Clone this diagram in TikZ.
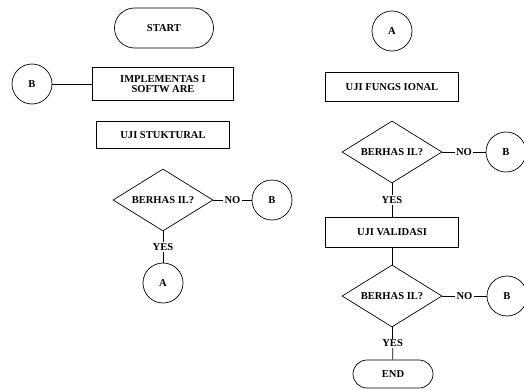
\documentclass[tikz,border=0pt]{standalone}
\usepackage{fontspec}
\setmainfont{Liberation Serif}
\usetikzlibrary{shapes.geometric, shapes.misc}

\begin{document}
\begin{tikzpicture}[x=0.03cm, y=-0.03cm, line width=0.6pt,
  font=\fontsize{9}{10}\selectfont\bfseries,
  terminal/.style={draw, rounded rectangle, inner sep=0pt},
  process/.style={draw, rectangle, inner sep=0pt, minimum width=3.99cm},
  decision/.style={draw, diamond, aspect=1.6, inner sep=0pt, minimum width=3cm, minimum height=1.86cm},
  connector/.style={draw, circle, inner sep=0pt, minimum size=1.2cm},
  lbl/.style={fill=white, inner sep=1pt}]

% Frame
\useasboundingbox (0,0) rectangle (524,390);

% Left column
\node[terminal, minimum width=2.97cm, minimum height=1.2cm] (start) at (164,28) {START};
\node[process, minimum width=4.23cm, minimum height=0.99cm, align=center] (impl) at (163,84) {IMPLEMENTAS I\\[-2pt]SOFTW ARE};
\node[connector] (b0) at (32,84) {B};
\node[process, minimum height=0.81cm] (uji1) at (163,135) {UJI STUKTURAL};
\node[decision] (cek1) at (163,200) {BERHAS IL?};
\node[connector] (b1) at (272,200) {B};
\node[connector] (a1) at (163,283) {A};

% Right column
\node[connector] (a2) at (392,31) {A};
\node[process, minimum height=0.87cm] (uji2) at (392,87) {UJI FUNGS IONAL};
\node[decision] (cek2) at (392,152) {BERHAS IL?};
\node[connector] (b2) at (506,152) {B};
\node[process, minimum height=0.9cm] (uji3) at (392,232) {UJI VALIDASI};
\node[decision] (cek3) at (392,296) {BERHAS IL?};
\node[connector] (b3) at (507,296) {B};
\node[terminal, minimum width=2.4cm, minimum height=0.84cm] (end) at (393,374) {END};

% Connectors
\draw (b0) -- (impl);
\draw (cek1) -- node[lbl] {NO} (b1);
\draw (cek1) -- node[lbl] {YES} (a1);
\draw (cek2) -- node[lbl] {NO} (b2);
\draw (cek2) -- node[lbl] {YES} (uji3);
\draw (uji3) -- (cek3);
\draw (cek3) -- node[lbl] {NO} (b3);
\draw (cek3) -- node[lbl] {YES} (end);

\end{tikzpicture}
\end{document}
